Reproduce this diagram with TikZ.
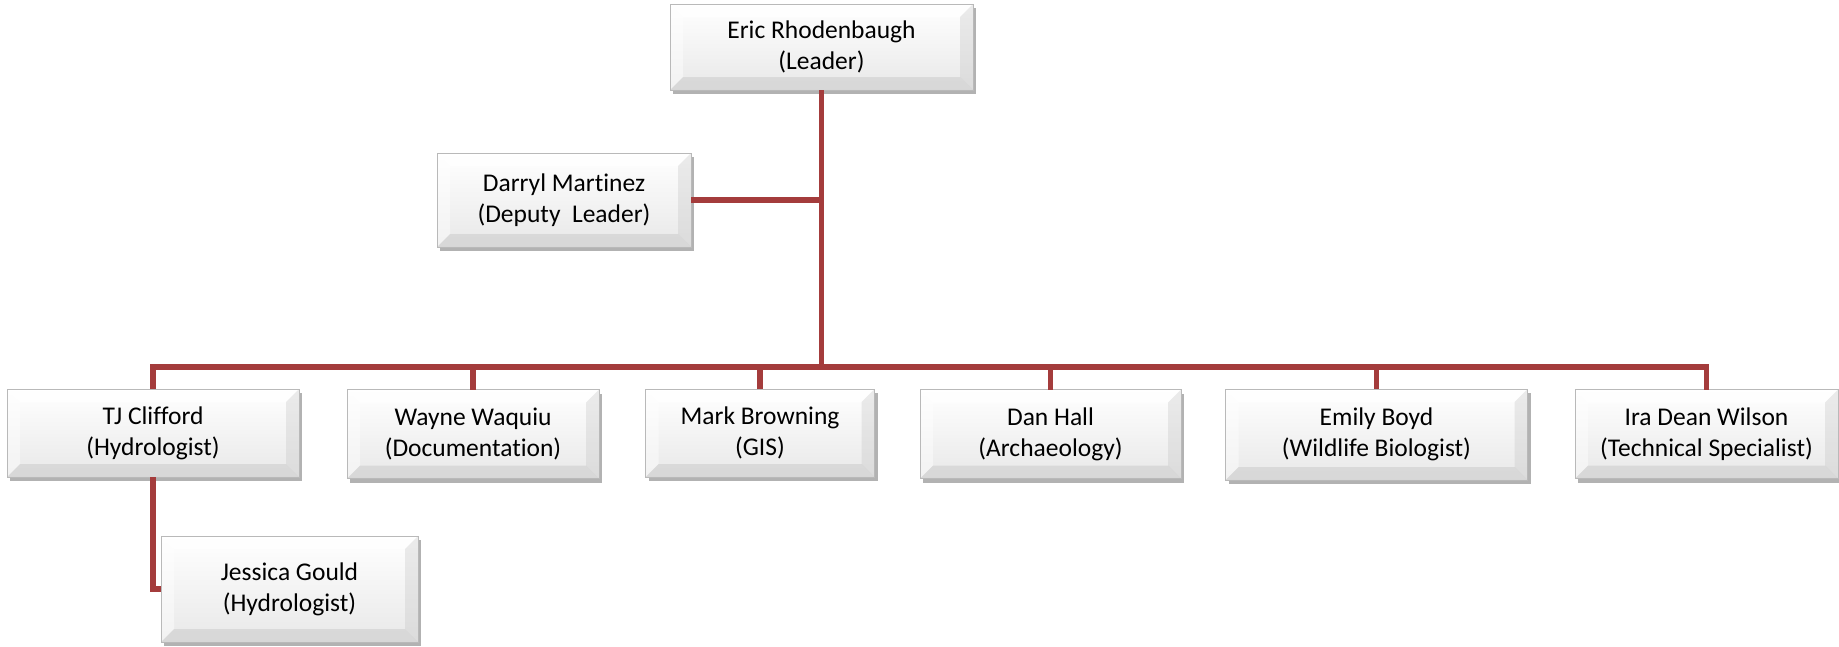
\documentclass[tikz,border=0pt]{standalone}
\usepackage{fontspec}
\setmainfont{Carlito}[RawFeature={-liga}]
\usetikzlibrary{shadows}
\definecolor{linkred}{RGB}{164,60,60}
\newcommand{\bvw}{13pt}
\begin{document}
\begin{tikzpicture}[x=1pt,y=-1pt,
  box/.style={rectangle, draw=gray!55, line width=0.8pt, inner sep=0pt, outer sep=0pt,
    align=center, font=\fontsize{25.5}{31}\selectfont, text=black,
    top color=white, bottom color=gray!18,
    drop shadow={shadow xshift=3pt, shadow yshift=-4pt, opacity=0.3, fill=black},
    path picture={
      \path (path picture bounding box.north west) coordinate (pnw)
            (path picture bounding box.north east) coordinate (pne)
            (path picture bounding box.south west) coordinate (psw)
            (path picture bounding box.south east) coordinate (pse);
      \fill[white,opacity=0.8] (pnw) -- (pne) -- ([xshift=-\bvw,yshift=-\bvw]pne) -- ([xshift=\bvw,yshift=-\bvw]pnw) -- cycle;
      \fill[white,opacity=0.45] (pnw) -- ([xshift=\bvw,yshift=-\bvw]pnw) -- ([xshift=\bvw,yshift=\bvw]psw) -- (psw) -- cycle;
      \fill[gray!50,opacity=0.3] (pne) -- (pse) -- ([xshift=-\bvw,yshift=\bvw]pse) -- ([xshift=-\bvw,yshift=-\bvw]pne) -- cycle;
      \fill[gray!55,opacity=0.35] (psw) -- (pse) -- ([xshift=-\bvw,yshift=\bvw]pse) -- ([xshift=\bvw,yshift=\bvw]psw) -- cycle;
    }},
  link/.style={draw=linkred, line width=5.5pt, line join=miter}
]
\useasboundingbox (0,0) rectangle (1839,646);

\node[box, minimum width=303pt, minimum height=86pt] (eric) at (821.5,47) {Eric Rhodenbaugh\\(Leader)};
\node[box, minimum width=254pt, minimum height=94pt] (darryl) at (564,200) {Darryl Martinez\\(Deputy\ \ Leader)};

\node[box, minimum width=292pt, minimum height=88pt] (tj) at (153,433) {TJ Clifford\\(Hydrologist)};
\node[box, minimum width=252pt, minimum height=89pt] (wayne) at (473,434) {Wayne Waquiu\\(Documentation)};
\node[box, minimum width=229pt, minimum height=88pt] (mark) at (760,433) {Mark Browning\\(GIS)};
\node[box, minimum width=261pt, minimum height=89pt] (dan) at (1050.5,434) {Dan Hall\\(Archaeology)};
\node[box, minimum width=302pt, minimum height=91pt] (emily) at (1376.5,434.5) {Emily Boyd\\(Wildlife Biologist)};
\node[box, minimum width=263pt, minimum height=89pt] (ira) at (1706.5,434) {Ira Dean Wilson\\(Technical Specialist)};

\node[box, minimum width=257pt, minimum height=106pt] (jessica) at (289.5,589) {Jessica Gould\\(Hydrologist)};

\coordinate (trunk) at (821.5,367);

\draw[link] (eric.south) -- (trunk);
\draw[link] (darryl.east) -- (darryl.east -| trunk);
\draw[link] (tj.north) -- (tj.north |- trunk) -- (ira.north |- trunk) -- (ira.north);
\foreach \n in {wayne,mark,dan,emily}
  \draw[link] (\n.north) -- (\n.north |- trunk);
\draw[link] (tj.south) |- (jessica.west);
\end{tikzpicture}
\end{document}
